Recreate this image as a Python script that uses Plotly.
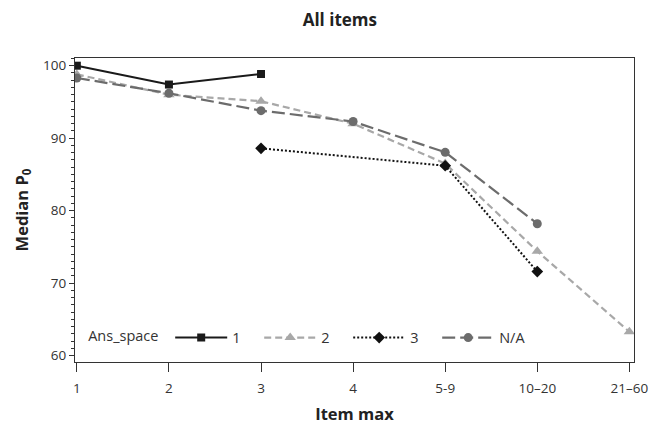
import plotly.graph_objects as go

# Item-max categories along the x axis
categories = ["1", "2", "3", "4", "5-9", "10–20", "21–60"]

# Median P0 by answer-space group
ans1_x = ["1", "2", "3"]
ans1_y = [100.0, 97.4, 98.85]

ans2_x = ["1", "2", "3", "4", "5-9", "10–20", "21–60"]
ans2_y = [98.8, 96.0, 95.1, 92.0, 86.5, 74.4, 63.3]

ans3_x = ["3", "5-9", "10–20"]
ans3_y = [88.6, 86.2, 71.6]

na_x = ["1", "2", "3", "4", "5-9", "10–20"]
na_y = [98.3, 96.2, 93.8, 92.3, 88.05, 78.2]

FONT = "Open Sans"

fig = go.Figure()

fig.add_trace(go.Scatter(
    x=ans2_x, y=ans2_y, name="2", mode="lines+markers",
    line=dict(color="#a8a8a8", width=2.2, dash="7px,4px"),
    marker=dict(symbol="triangle-up", size=10, color="#a8a8a8"),
    legendrank=2,
))
fig.add_trace(go.Scatter(
    x=na_x, y=na_y, name="N/A", mode="lines+markers",
    line=dict(color="#6c6c6c", width=2.2, dash="13px,5px"),
    marker=dict(symbol="circle", size=9, color="#6c6c6c"),
    legendrank=4,
))
fig.add_trace(go.Scatter(
    x=ans3_x, y=ans3_y, name="3", mode="lines+markers",
    line=dict(color="#111111", width=2, dash="2px,2px"),
    marker=dict(symbol="diamond", size=9, color="#111111"),
    legendrank=3,
))
fig.add_trace(go.Scatter(
    x=ans1_x, y=ans1_y, name="1", mode="lines+markers",
    line=dict(color="#1a1a1a", width=2),
    marker=dict(symbol="square", size=8, color="#1a1a1a"),
    legendrank=1,
))

fig.update_layout(
    width=651, height=425,
    margin=dict(l=75, r=17, t=58, b=63),
    paper_bgcolor="white", plot_bgcolor="white",
    font=dict(family=FONT, size=13, color="#333333"),
    title=dict(text="<b>All items</b>", x=0.522, xanchor="center",
               y=0.954, yanchor="middle",
               font=dict(family=FONT, size=17, color="#222222")),
    showlegend=True,
    legend=dict(
        orientation="h", x=0.02, xanchor="left", y=0.08, yanchor="middle",
        bgcolor="rgba(0,0,0,0)", itemwidth=52,
        entrywidth=22, entrywidthmode="pixels",
        title=dict(text="Ans_space ", side="left",
                   font=dict(family=FONT, size=14.5, color="#333333")),
        font=dict(family=FONT, size=14.5, color="#333333"),
        traceorder="normal",
    ),
    xaxis=dict(
        type="category", categoryorder="array", categoryarray=categories,
        range=[-0.02, 6.05], automargin=False,
        showline=True, linecolor="#333333", linewidth=1.2, mirror=True,
        ticks="outside", ticklen=9, tickcolor="#333333", tickwidth=1.2,
        ticklabelstandoff=5,
        showgrid=False, zeroline=False,
        tickfont=dict(family=FONT, size=13.5, color="#333333"),
        title=dict(text="<b>Item max</b>", standoff=14,
                   font=dict(family=FONT, size=16.5, color="#222222")),
    ),
    yaxis=dict(
        range=[59.13, 101.06], tickvals=[60, 70, 80, 90, 100],
        automargin=False,
        showline=True, linecolor="#333333", linewidth=1.2, mirror=True,
        ticks="outside", ticklen=5, tickcolor="#333333", tickwidth=1.2,
        minor=dict(dtick=1, tick0=60, ticks="outside", ticklen=3,
                   tickcolor="#333333", tickwidth=1, showgrid=False),
        showgrid=False, zeroline=False,
        tickfont=dict(family=FONT, size=13.5, color="#333333"),
        title=dict(text="<b>Median P<sub>0</sub></b>", standoff=10,
                   font=dict(family=FONT, size=16.5, color="#222222")),
    ),
)

fig.write_html("out.html")
